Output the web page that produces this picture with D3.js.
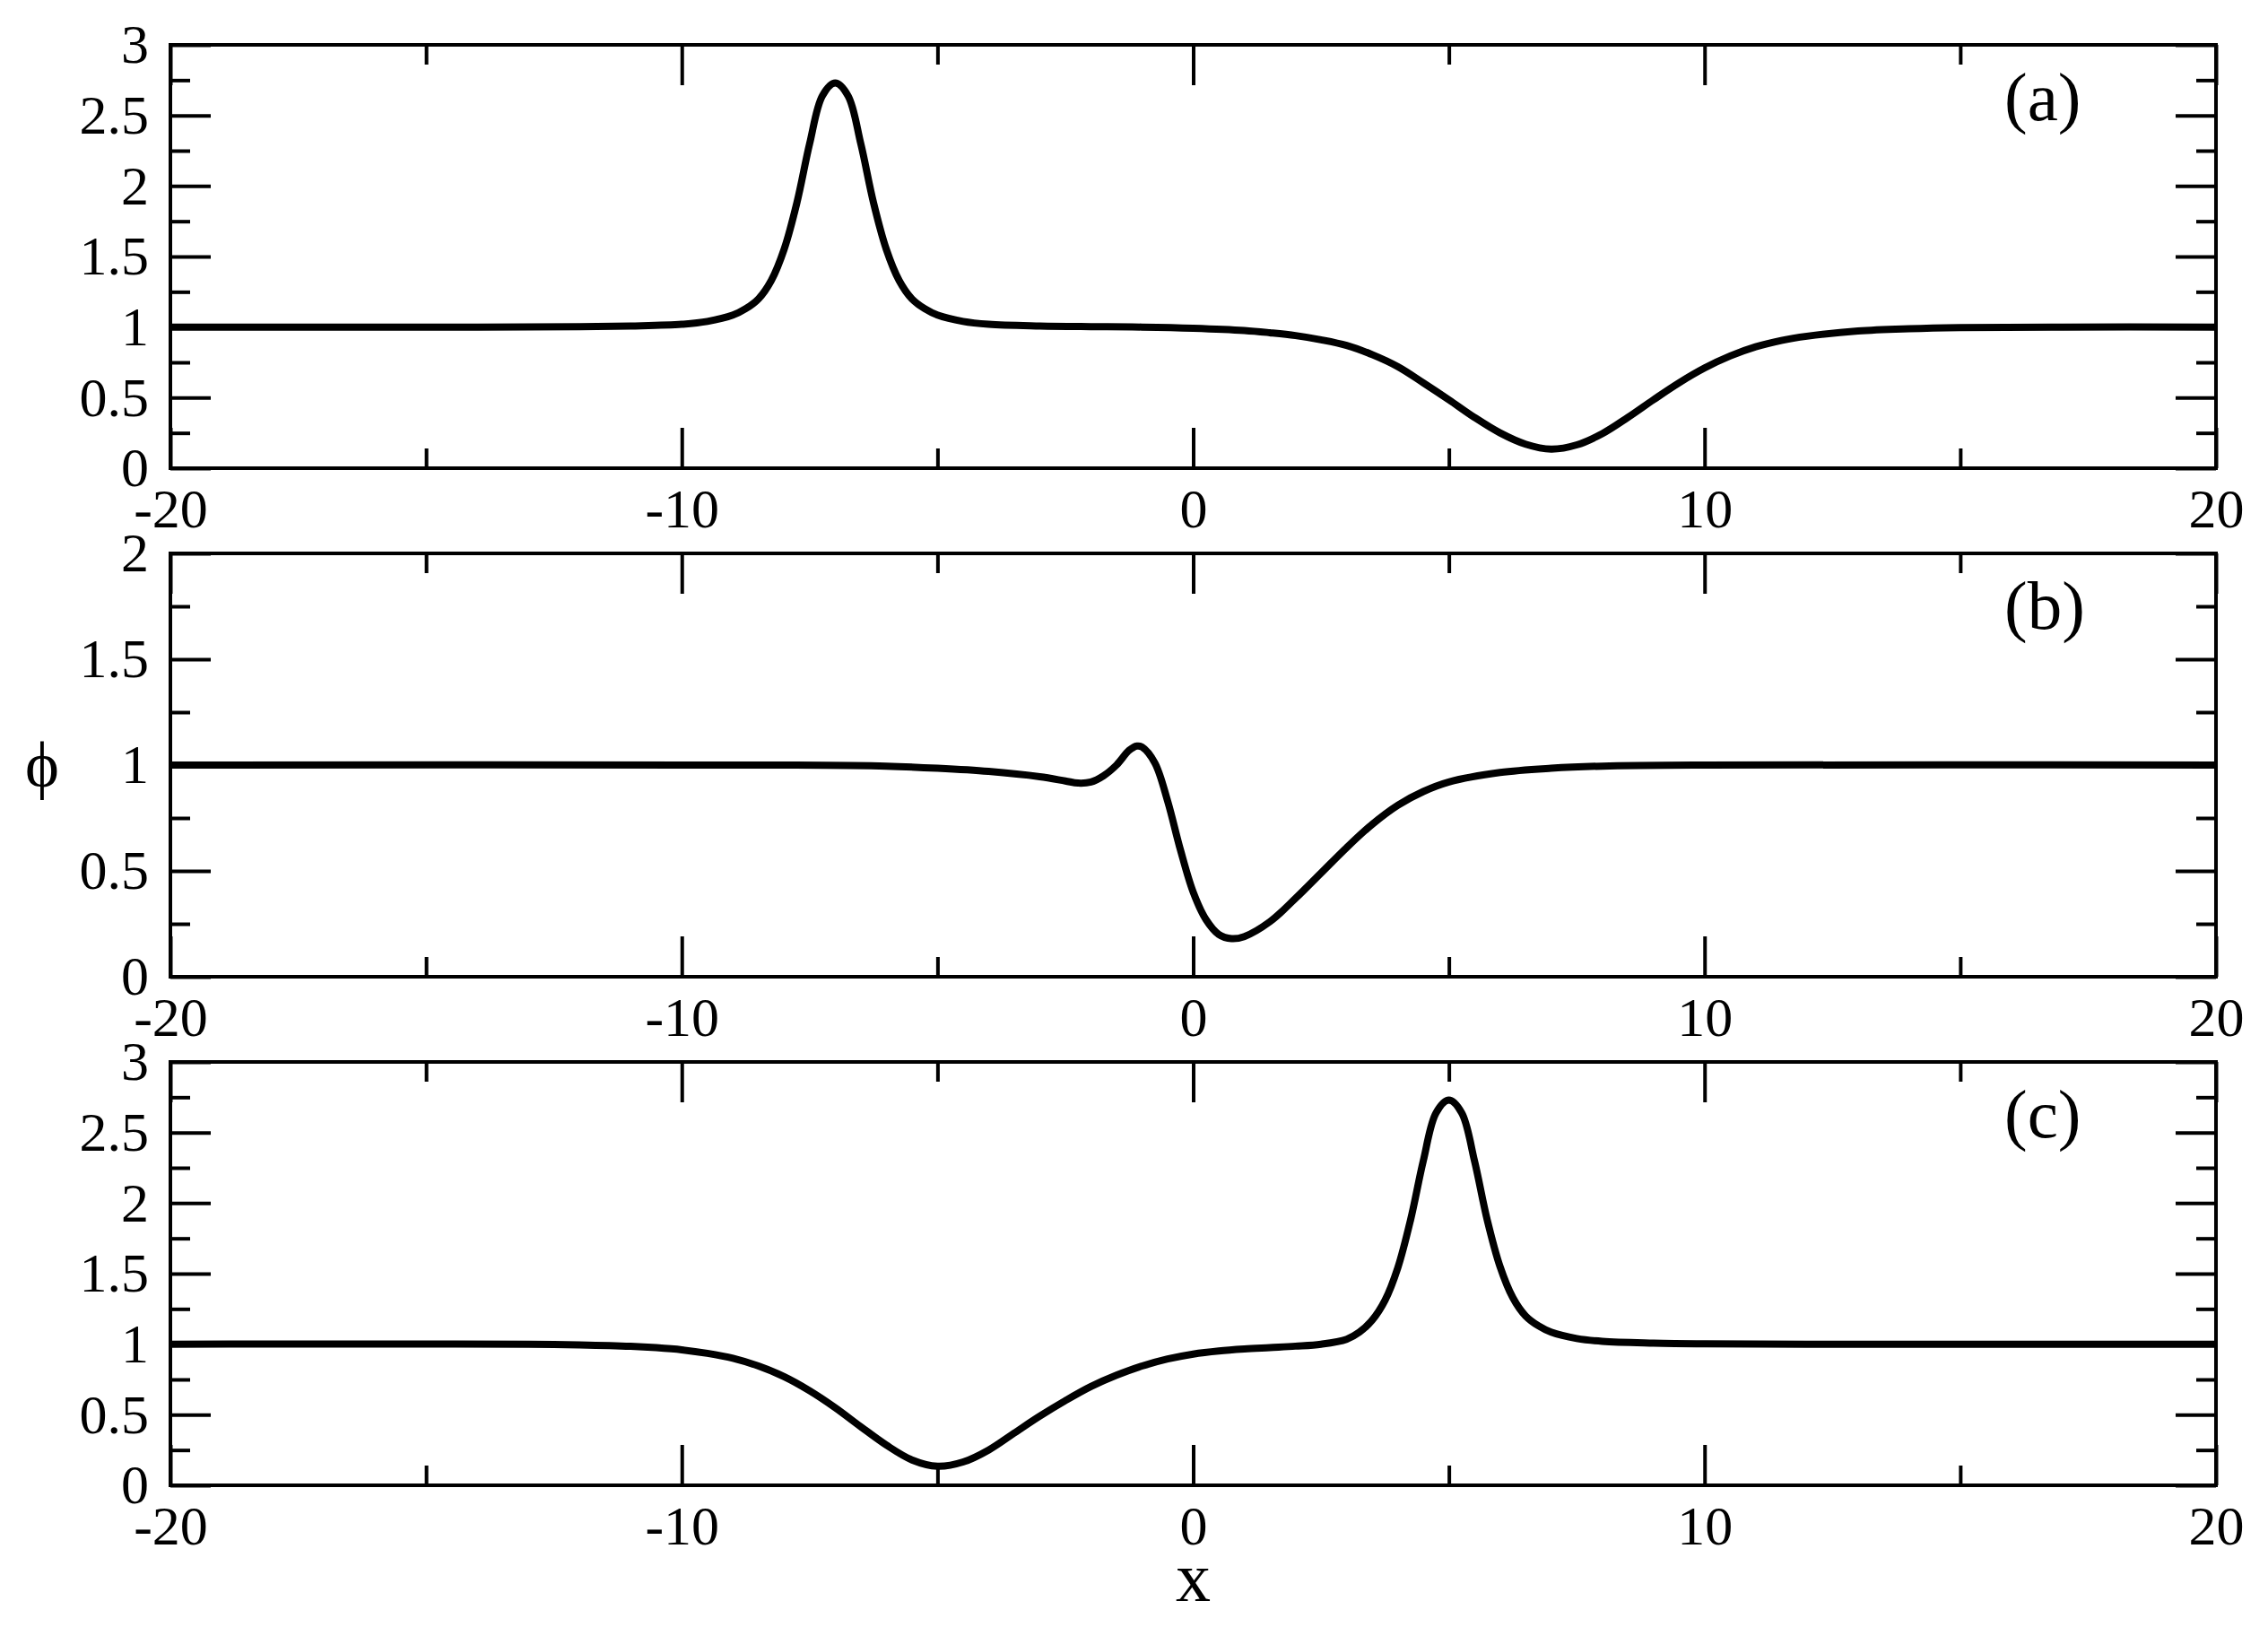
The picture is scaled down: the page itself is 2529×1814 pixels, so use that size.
<!DOCTYPE html>
<html>
<head>
<meta charset="utf-8">
<script src="https://cdn.jsdelivr.net/npm/d3@7"></script>
<style>
  html, body { margin: 0; padding: 0; background: #ffffff; }
  svg { display: block; }
  text { font-family: "Liberation Serif", "Times New Roman", serif; fill: #000; }
</style>
</head>
<body>
<svg id="chart" width="2529" height="1814"></svg>
<script>
// ---------------- data ----------------
const panelLabels = ["(a)", "(b)", "(c)"];
const xMajorTicks = [-20, -10, 0, 10, 20];
const xMinorTicks = [-15, -5, 5, 15];
const yMaxes = [3, 2, 3];

const seriesA = [
  [-20, 1], [-14, 1], [-12, 1.002], [-11, 1.008], [-10, 1.02], [-9.5, 1.04],
  [-9, 1.085], [-8.75, 1.13], [-8.5, 1.2], [-8.25, 1.33], [-8, 1.55],
  [-7.75, 1.88], [-7.5, 2.3], [-7.25, 2.64], [-7, 2.73], [-6.75, 2.64],
  [-6.5, 2.3], [-6.25, 1.88], [-6, 1.55], [-5.75, 1.33], [-5.5, 1.2],
  [-5.25, 1.13], [-5, 1.085], [-4.5, 1.04], [-4, 1.02], [-3, 1.008],
  [-2, 1.003], [-1, 1.0], [0, 0.992], [1, 0.976], [1.5, 0.96], [2, 0.94],
  [2.5, 0.91], [3, 0.87], [3.5, 0.805], [4, 0.72], [4.5, 0.605], [5, 0.485],
  [5.5, 0.36], [6, 0.25], [6.5, 0.17], [7, 0.135], [7.5, 0.165], [8, 0.245],
  [8.5, 0.36], [9, 0.485], [9.5, 0.605], [10, 0.71], [10.5, 0.795], [11, 0.86],
  [11.5, 0.905], [12, 0.935], [13, 0.972], [14, 0.988], [15, 0.996], [17, 1.0],
  [20, 1.0]
];

const seriesB = [
  [-20, 1], [-8, 1], [-6, 0.995], [-5, 0.985], [-4, 0.97], [-3, 0.945],
  [-2.5, 0.925], [-2.25, 0.915], [-2, 0.92], [-1.75, 0.95], [-1.5, 1.0],
  [-1.25, 1.07], [-1.1, 1.09], [-1, 1.085], [-0.75, 1.01], [-0.5, 0.83],
  [-0.25, 0.6], [0, 0.4], [0.25, 0.27], [0.5, 0.2], [0.75, 0.18], [1, 0.19],
  [1.5, 0.26], [2, 0.37], [2.5, 0.49], [3, 0.61], [3.5, 0.72], [4, 0.81],
  [4.5, 0.875], [5, 0.92], [6, 0.965], [7, 0.985], [8, 0.995], [10, 1],
  [20, 1]
];

const seriesC = [
  [-20, 1], [-13, 1], [-12, 0.995], [-11, 0.985], [-10.5, 0.975], [-10, 0.96],
  [-9.5, 0.935], [-9, 0.9], [-8.5, 0.845], [-8, 0.77], [-7.5, 0.67],
  [-7, 0.55], [-6.5, 0.415], [-6, 0.285], [-5.5, 0.18], [-5, 0.135],
  [-4.5, 0.165], [-4, 0.25], [-3.5, 0.37], [-3, 0.49], [-2.5, 0.6], [-2, 0.7],
  [-1.5, 0.78], [-1, 0.845], [-0.5, 0.895], [0, 0.93], [0.5, 0.952], [1, 0.966],
  [1.5, 0.976], [2, 0.986], [2.5, 1.0], [3, 1.035], [3.25, 1.085], [3.5, 1.17],
  [3.75, 1.31], [4, 1.54], [4.25, 1.88], [4.5, 2.3], [4.75, 2.64], [5, 2.73],
  [5.25, 2.64], [5.5, 2.3], [5.75, 1.88], [6, 1.55], [6.25, 1.33], [6.5, 1.2],
  [6.75, 1.13], [7, 1.085], [7.5, 1.04], [8, 1.02], [9, 1.008], [10, 1.003],
  [12, 1.0], [20, 1.0]
];

const allSeries = [seriesA, seriesB, seriesC];

// ---------------- layout ----------------
const W = 2529, H = 1814;
const left = 190, right = 2471;
const tops = [50, 617, 1184];
const ph = 472;
const tickFont = 62;

const svg = d3.select("#chart");
svg.append("rect").attr("width", W).attr("height", H).attr("fill", "#fff");

const x = d3.scaleLinear().domain([-20, 20]).range([left, right]);

allSeries.forEach((data, i) => {
  const top = tops[i], bottom = top + ph;
  const ymax = yMaxes[i];
  const y = d3.scaleLinear().domain([0, ymax]).range([bottom, top]);
  const yMajor = d3.range(0, ymax + 0.001, 0.5);
  const yMinor = d3.range(0.25, ymax, 0.5);

  const g = svg.append("g");

  const styleAxis = sel => {
    sel.select(".domain").remove();
    sel.selectAll(".tick line").attr("stroke", "#000").attr("stroke-width", 4);
    sel.selectAll(".tick text")
      .style("font-family", '"Liberation Serif", "Times New Roman", serif')
      .style("font-size", tickFont + "px")
      .attr("fill", "#000");
  };

  // bottom axis
  g.append("g").attr("transform", `translate(0,${bottom})`)
    .call(d3.axisBottom(x).tickValues(xMajorTicks).tickSize(-45).tickPadding(22)
      .tickFormat(d => d < 0 ? "-" + Math.abs(d) : String(d)))
    .call(styleAxis);
  g.append("g").attr("transform", `translate(0,${bottom})`)
    .call(d3.axisBottom(x).tickValues(xMinorTicks).tickSize(-22).tickFormat(""))
    .call(styleAxis);
  // top axis
  g.append("g").attr("transform", `translate(0,${top})`)
    .call(d3.axisTop(x).tickValues(xMajorTicks).tickSize(-45).tickFormat(""))
    .call(styleAxis);
  g.append("g").attr("transform", `translate(0,${top})`)
    .call(d3.axisTop(x).tickValues(xMinorTicks).tickSize(-22).tickFormat(""))
    .call(styleAxis);
  // left axis
  g.append("g").attr("transform", `translate(${left},0)`)
    .call(d3.axisLeft(y).tickValues(yMajor).tickSize(-45).tickPadding(24)
      .tickFormat(d => String(+d.toFixed(2))))
    .call(styleAxis);
  g.append("g").attr("transform", `translate(${left},0)`)
    .call(d3.axisLeft(y).tickValues(yMinor).tickSize(-22).tickFormat(""))
    .call(styleAxis);
  // right axis
  g.append("g").attr("transform", `translate(${right},0)`)
    .call(d3.axisRight(y).tickValues(yMajor).tickSize(-45).tickFormat(""))
    .call(styleAxis);
  g.append("g").attr("transform", `translate(${right},0)`)
    .call(d3.axisRight(y).tickValues(yMinor).tickSize(-22).tickFormat(""))
    .call(styleAxis);

  // frame
  g.append("rect")
    .attr("x", left).attr("y", top)
    .attr("width", right - left).attr("height", ph)
    .attr("fill", "none").attr("stroke", "#000").attr("stroke-width", 4);

  // curve
  const line = d3.line()
    .x(d => x(d[0])).y(d => y(d[1]))
    .curve(d3.curveCatmullRom.alpha(0.5));
  g.append("path").datum(data)
    .attr("d", line)
    .attr("fill", "none").attr("stroke", "#000")
    .attr("stroke-width", 8).attr("stroke-linejoin", "round");

  // panel label
  g.append("text")
    .attr("x", 2235).attr("y", top + 84)
    .style("font-size", "77px")
    .text(panelLabels[i]);
});

// axis titles
svg.append("text")
  .attr("x", 47).attr("y", (tops[1] + tops[1] + ph) / 2)
  .attr("text-anchor", "middle").attr("dominant-baseline", "central")
  .style("font-size", "72px")
  .text("ϕ");

svg.append("text")
  .attr("x", x(0)).attr("y", 1785)
  .attr("text-anchor", "middle")
  .style("font-size", "78px")
  .text("x");
</script>
</body>
</html>
